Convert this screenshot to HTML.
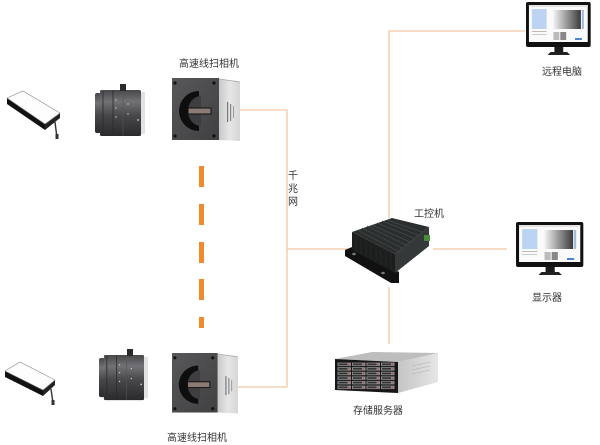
<!DOCTYPE html>
<html><head><meta charset="utf-8"><style>
html,body{margin:0;padding:0;background:#fff;}
svg{display:block;}
text{font-family:"Liberation Sans","Noto Sans CJK SC",sans-serif;fill:#333;}
</style></head><body>
<svg width="600" height="445" viewBox="0 0 600 445" xmlns="http://www.w3.org/2000/svg">
<defs>
<linearGradient id="face" x1="0" y1="0" x2="1" y2="1"><stop offset="0" stop-color="#58585a"/><stop offset="1" stop-color="#404042"/></linearGradient>
<linearGradient id="side" x1="0" y1="0" x2="1" y2="0"><stop offset="0" stop-color="#c8c8c8"/><stop offset="0.5" stop-color="#e6e6e6"/><stop offset="1" stop-color="#d6d6d6"/></linearGradient>
<linearGradient id="lens" x1="0" y1="0" x2="0" y2="1"><stop offset="0" stop-color="#48484b"/><stop offset="0.25" stop-color="#727276"/><stop offset="0.55" stop-color="#48484b"/><stop offset="1" stop-color="#2a2a2c"/></linearGradient>
<linearGradient id="scr" x1="0" y1="0" x2="1" y2="0"><stop offset="0" stop-color="#f2f2f2"/><stop offset="1" stop-color="#3a3a3a"/></linearGradient>
<linearGradient id="srvside" x1="0" y1="0" x2="1" y2="0"><stop offset="0" stop-color="#c4c4c4"/><stop offset="1" stop-color="#e6e6e6"/></linearGradient>
<pattern id="bay" x="337" y="362" width="14.5" height="4.6" patternUnits="userSpaceOnUse">
<rect x="0.5" y="0.6" width="13.5" height="3.4" fill="#8e8e8e"/>
<rect x="1.5" y="1.5" width="9" height="1.5" fill="#2a2a2a"/>
<rect x="11.3" y="1.6" width="1.3" height="1.3" fill="#c44"/>
</pattern>

<g id="cam">
<polygon points="47,1 66,3 68,4 68,63 47,62" fill="url(#side)"/>
<line x1="47" y1="1" x2="68" y2="4" stroke="#aaa" stroke-width="0.8"/>
<rect x="0" y="0" width="47" height="62" fill="url(#face)"/>
<path d="M27,13 A20,20 0 0 0 27,53 Z" fill="#0e0e0e"/>
<path d="M29,18 A13,15 0 0 0 29,48 Z" fill="#3e3e40"/>
<rect x="16" y="30" width="23" height="6" fill="#8c7a74" stroke="#111" stroke-width="1"/>
<circle cx="3" cy="5" r="1.6" fill="#111"/><circle cx="42" cy="5" r="1.6" fill="#111"/>
<circle cx="3" cy="58" r="1.6" fill="#111"/><circle cx="42" cy="58" r="1.6" fill="#111"/>
<rect x="55" y="24" width="1.2" height="20" fill="#777"/>
<rect x="58" y="26" width="1.2" height="17" fill="#888"/>
<rect x="61" y="28" width="1" height="12" fill="#999"/>
</g>

<g id="lensg">
<rect x="0" y="3" width="6" height="40" rx="2" fill="url(#lens)"/>
<rect x="5" y="0" width="41" height="46" rx="1.5" fill="url(#lens)"/>
<rect x="46" y="2" width="4" height="42" fill="#e2e2e2"/>
<line x1="8" y1="1" x2="8" y2="45" stroke="#2a2a2a" stroke-width="0.8"/>
<line x1="18" y1="0" x2="18" y2="46" stroke="#2a2a2a" stroke-width="0.8"/>
<line x1="28" y1="0" x2="28" y2="46" stroke="#555" stroke-width="0.6"/>
<circle cx="21" cy="10" r="0.7" fill="#ccc"/><circle cx="21" cy="18" r="0.7" fill="#ccc"/><circle cx="21" cy="27" r="0.7" fill="#ccc"/><circle cx="33" cy="14" r="0.7" fill="#ccc"/><circle cx="33" cy="24" r="0.7" fill="#ccc"/>
<circle cx="43" cy="30" r="0.9" fill="#ccc"/>
</g>

<g id="mon">
<rect x="0" y="0" width="66" height="45" rx="2" fill="#111"/>
<rect x="3" y="3" width="60" height="37" fill="#fafafa"/>
<rect x="3" y="3" width="60" height="2" fill="#e3e3e3"/>
<rect x="6" y="7" width="15" height="20" fill="#bcd3f2"/>
<rect x="28" y="8" width="28" height="19" fill="url(#scr)"/>
<rect x="57" y="8" width="2" height="19" fill="#9cb9e0"/>
<rect x="6" y="29" width="15" height="1" fill="#bbb"/>
<rect x="6" y="32" width="15" height="1" fill="#ccc"/>
<rect x="28" y="30" width="6" height="8" fill="#bbb"/>
<rect x="35" y="30" width="6" height="8" fill="#888"/>
<rect x="50" y="36" width="7" height="2" fill="#4a84d0"/>
<rect x="29" y="45" width="9" height="5" fill="#1b1b1b"/>
<polygon points="22,53 25,50 42,50 45,53" fill="#222"/>
</g>
</defs>

<!-- connectors -->
<g fill="none" stroke="#f2c6a3" stroke-width="1.3">
<path d="M240,110 H287 V387 H238"/>
<path d="M287,249 H350"/>
<path d="M433,249 H507"/>
<path d="M525,31 H389 V218"/>
<path d="M389,287 V344"/>
</g>

<!-- orange dashes -->
<g fill="#f08a2c">
<rect x="199" y="166" width="5" height="21"/>
<rect x="199" y="204" width="5" height="21"/>
<rect x="199" y="242" width="5" height="21"/>
<rect x="199" y="279" width="5" height="21"/>
<rect x="199" y="317" width="5" height="11"/>
</g>

<!-- top LED light -->
<g>
<polygon points="7,98 45,124 45,130 7,104" fill="#111"/>
<polygon points="45,124 60,113 60,118 45,130" fill="#222"/>
<polygon points="7,98 23,91 60,113 45,124" fill="#fdfdfd" stroke="#888" stroke-width="0.6"/>
<path d="M55,122 Q56,130 57,138" stroke="#333" stroke-width="1.4" fill="none"/>
<rect x="55.5" y="134" width="3" height="5" fill="#333"/>
</g>
<!-- bottom LED light -->
<g>
<polygon points="5,371 43,390 43,396 5,377" fill="#111"/>
<polygon points="43,390 55,380 55,385 43,396" fill="#222"/>
<polygon points="5,371 20,362 55,380 43,390" fill="#fdfdfd" stroke="#888" stroke-width="0.6"/>
<path d="M51,389 Q52,396 53,403" stroke="#333" stroke-width="1.4" fill="none"/>
<rect x="51.5" y="400" width="3" height="5" fill="#333"/>
</g>

<!-- lenses -->
<use href="#lensg" transform="translate(95,90)"/>
<rect x="120" y="84" width="6" height="7" fill="#2a2a2a"/>
<use href="#lensg" transform="translate(99,355) scale(0.98,0.98)"/>
<rect x="127" y="349" width="6" height="7" fill="#2a2a2a"/>

<!-- cameras -->
<use href="#cam" transform="translate(172,78)"/>
<use href="#cam" transform="translate(172,353) scale(0.97,0.96)"/>

<!-- IPC -->
<g>
<polygon points="345,250 352,247 399,272 399,283 391,283 345,256" fill="#111"/>
<ellipse cx="354" cy="254" rx="1.8" ry="1.2" fill="#777"/>
<ellipse cx="383" cy="273" rx="1.8" ry="1.2" fill="#777"/>
<polygon points="352,232 395,254 395,273 352,250" fill="#1c1e1e"/>
<polygon points="395,254 429,227 429,246 395,273" fill="#343838"/>
<polygon points="352,232 392,218 429,227 395,254" fill="#2b2e2f"/>
<g stroke="#454a4a" stroke-width="0.7">
<line x1="357" y1="230" x2="398" y2="251"/>
<line x1="362" y1="228" x2="402" y2="248"/>
<line x1="367" y1="226" x2="406" y2="245"/>
<line x1="372" y1="225" x2="410" y2="242"/>
<line x1="377" y1="223" x2="414" y2="238"/>
<line x1="382" y1="221" x2="418" y2="235"/>
<line x1="387" y1="220" x2="422" y2="232"/>
</g>
<g stroke="#2a2c2c" stroke-width="0.6">
<line x1="356" y1="236" x2="356" y2="252"/><line x1="361" y1="239" x2="361" y2="255"/>
<line x1="366" y1="241" x2="366" y2="257"/><line x1="371" y1="244" x2="371" y2="260"/>
<line x1="376" y1="246" x2="376" y2="262"/><line x1="381" y1="249" x2="381" y2="265"/>
<line x1="386" y1="251" x2="386" y2="267"/><line x1="391" y1="253" x2="391" y2="270"/>
</g>
<rect x="424" y="235" width="6" height="6" fill="#4b8a3c"/>
</g>

<!-- storage server -->
<g>
<polygon points="335,359 372,352 438,353 398,362" fill="#bdbdbd"/>
<polygon points="398,362 438,353 438,382 398,393" fill="url(#srvside)"/>
<g stroke="#b0b0b0" stroke-width="0.6">
<line x1="412" y1="366" x2="430" y2="362"/><line x1="412" y1="370" x2="430" y2="366"/><line x1="412" y1="374" x2="430" y2="370"/>
</g>
<polygon points="335,359 398,362 398,393 335,390" fill="#161616"/>
<rect x="337" y="362" width="58" height="27.6" fill="url(#bay)"/>
</g>

<!-- monitors -->
<use href="#mon" transform="translate(526,2) scale(0.98,1)"/>
<use href="#mon" transform="translate(516,222) scale(1.02,1)"/>

<!-- labels -->
<g font-size="10" text-anchor="middle">
<text x="209" y="67">高速线扫相机</text>
<text x="197" y="441">高速线扫相机</text>
<text x="293" y="179">千</text>
<text x="293" y="192">兆</text>
<text x="293" y="205">网</text>
<text x="429" y="217">工控机</text>
<text x="562" y="75">远程电脑</text>
<text x="547" y="301">显示器</text>
<text x="378" y="414">存储服务器</text>
</g>
</svg>
</body></html>
